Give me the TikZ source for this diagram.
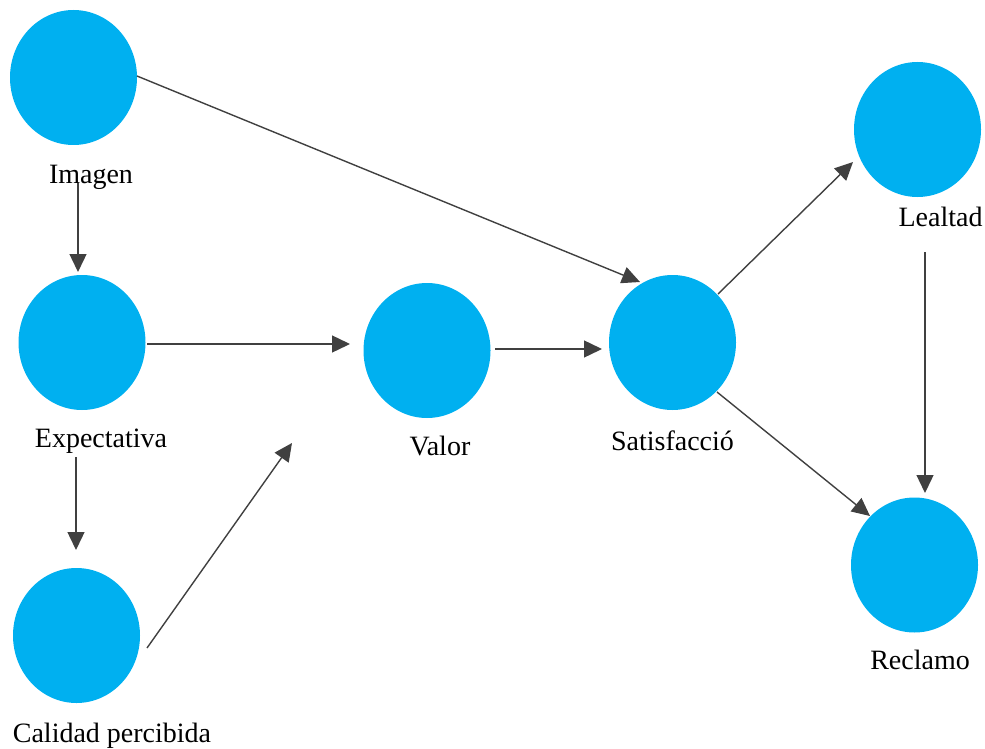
\documentclass[tikz,border=0pt]{standalone}
\usepackage{fontspec}
\setmainfont{Liberation Serif}
\usetikzlibrary{arrows.meta,shapes.geometric}
\definecolor{bubble}{HTML}{00B0F0}
\definecolor{linegray}{HTML}{404040}
\begin{document}
\begin{tikzpicture}[x=1pt,y=-1pt,
  bubble/.style={ellipse,fill=bubble,draw=none,minimum width=127pt,minimum height=135pt,inner sep=0pt},
  lbl/.style={anchor=base,inner sep=0pt,font=\fontsize{28}{34}\selectfont},
  conn/.style={draw=linegray,line width=1.4pt,-{Triangle[length=18pt,width=17pt]},shorten >=0pt}]
\useasboundingbox (0,0) rectangle (985,749);
% bubbles
\node[bubble] (imagen) at (73.5,77.5) {};
\node[bubble] (expect) at (82,342.5) {};
\node[bubble] (calidad) at (76.5,635.5) {};
\node[bubble] (valor) at (427,350.5) {};
\node[bubble] (satis) at (672.5,342.5) {};
\node[bubble] (lealtad) at (917.5,129.5) {};
\node[bubble] (reclamo) at (914.5,565) {};
% labels
\node[lbl] (limagen) at (91,183) {Imagen};
\node[lbl] (lexpect) at (101,447) {Expectativa};
\node[lbl] (lcalidad) at (112,742) {Calidad percibida};
\node[lbl] (lvalor) at (440,455) {Valor};
\node[lbl] (lsatis) at (672.5,450) {Satisfacció};
\node[lbl] (llealtad) at (940.5,226) {Lealtad};
\node[lbl] (lreclamo) at (920,669) {Reclamo};
% connector end points
\coordinate (a1) at (137,76);   \coordinate (a2) at (640,282);
\coordinate (b1) at (78,183);   \coordinate (b2) at (78,272);
\coordinate (c1) at (147,344);  \coordinate (c2) at (350,344);
\coordinate (d1) at (76,457);   \coordinate (d2) at (76,550);
\coordinate (e1) at (147,648);  \coordinate (e2) at (292,443);
\coordinate (f1) at (495,349);  \coordinate (f2) at (602,349);
\coordinate (g1) at (718,294);  \coordinate (g2) at (853,162);
\coordinate (h1) at (717,392);  \coordinate (h2) at (870,516);
\coordinate (i1) at (925,252);  \coordinate (i2) at (925,493);
% connectors
\draw[conn] (a1) -- (a2);
\draw[conn] (b1) -- (b2);
\draw[conn] (c1) -- (c2);
\draw[conn] (d1) -- (d2);
\draw[conn] (e1) -- (e2);
\draw[conn] (f1) -- (f2);
\draw[conn] (g1) -- (g2);
\draw[conn] (h1) -- (h2);
\draw[conn] (i1) -- (i2);
\end{tikzpicture}
\end{document}
